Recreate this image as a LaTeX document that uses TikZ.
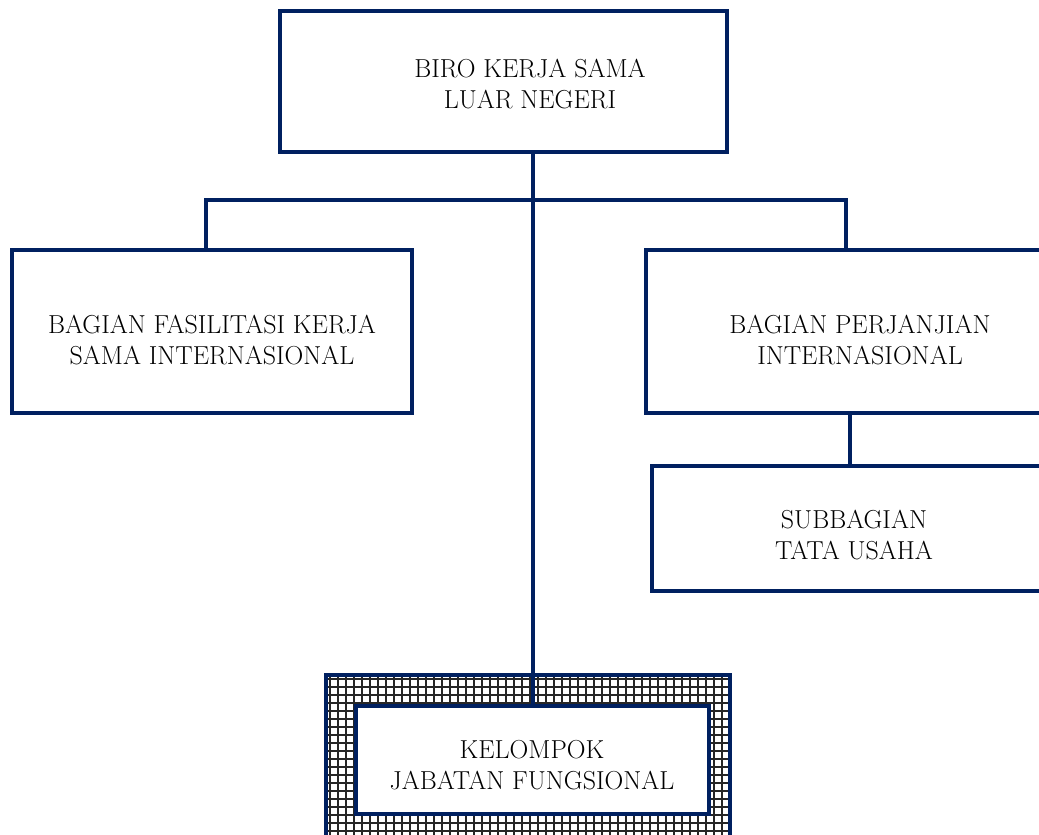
\documentclass[tikz,border=0pt]{standalone}
\definecolor{navy}{RGB}{0,32,96}
\begin{document}
\begin{tikzpicture}[x=1pt,y=-1pt,
  box/.style={draw=navy, line width=4pt, fill=white, rectangle, inner sep=0pt, outer sep=0pt},
  conn/.style={draw=navy, line width=4pt},
  txt/.style={align=center, inner sep=0pt, font=\fontsize{26}{30.5}\selectfont},
  gridline/.style={draw=black!85, line width=1.3pt}]
\useasboundingbox (0,0) rectangle (1039,835);
\clip (0,0) rectangle (1039,835);
% patterned frame around the functional group box
\fill[white] (326,675) rectangle (730,860);
\foreach \x in {330,338,...,726} \draw[gridline] (\x,675) -- (\x,860);
\foreach \y in {679,687,...,859} \draw[gridline] (326,\y) -- (730,\y);
\node[box, fill=none, minimum width=404pt, minimum height=185pt] (frame) at (528,767.5) {};
% boxes
\node[box, minimum width=447pt, minimum height=141pt] (biro) at (503.5,81.5) {};
\node[box, minimum width=400pt, minimum height=163pt] (fas) at (212,331.5) {};
\node[box, minimum width=454pt, minimum height=163pt] (perj) at (873,331.5) {};
\node[box, minimum width=448pt, minimum height=125pt] (sub) at (876,528.5) {};
\node[box, minimum width=353pt, minimum height=108pt] (kel) at (532.5,760) {};
% connector helpers
\coordinate (lb) at (206,200);
\coordinate (rb) at (846,200);
\coordinate (pm) at (850,440);
% connectors
\draw[conn] (biro.south -| kel.north) -- (kel.north);
\draw[conn] (fas.north -| lb) -- (lb) -- (rb) -- (perj.north -| rb);
\draw[conn] (perj.south -| pm) -- (sub.north -| pm);
% texts
\node[txt] (tbiro) at (530,84) {BIRO KERJA SAMA\\LUAR NEGERI};
\node[txt] (tfas) at (212,340) {BAGIAN FASILITASI KERJA\\SAMA INTERNASIONAL};
\node[txt] (tperj) at (860,340) {BAGIAN PERJANJIAN\\INTERNASIONAL};
\node[txt] (tsub) at (854,535) {SUBBAGIAN\\TATA USAHA};
\node[txt] (tkel) at (532,765) {KELOMPOK\\JABATAN FUNGSIONAL};
\end{tikzpicture}
\end{document}
